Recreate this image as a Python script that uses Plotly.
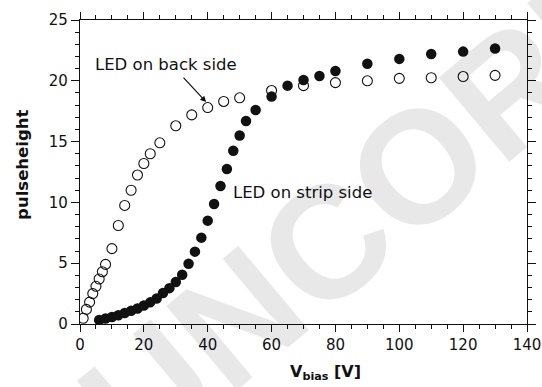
import plotly.graph_objects as go

# LED illuminating the back side (open circles)
back_v = [1, 2, 3, 4, 5, 6, 7, 8, 10, 12, 14, 16, 18, 20, 22, 25, 30, 35, 40, 45, 50,
          60, 70, 80, 90, 100, 110, 120, 130]
back_ph = [0.47, 1.2, 1.8, 2.5, 3.1, 3.7, 4.3, 4.9, 6.2, 8.1, 9.75, 11.0, 12.25, 13.2, 14.0,
           14.9, 16.3, 17.2, 17.8, 18.3, 18.6, 19.2, 19.6, 19.85, 20.0, 20.2, 20.25, 20.35, 20.45]

# LED illuminating the strip side (filled circles)
strip_v = [6, 8, 10, 12, 14, 16, 18, 20, 22, 24, 26, 28, 30, 32, 34, 36, 38, 40, 42, 44,
           46, 48, 50, 52, 55, 60, 65, 70, 75, 80, 90, 100, 110, 120, 130]
strip_ph = [0.33, 0.45, 0.58, 0.72, 0.9, 1.08, 1.28, 1.52, 1.78, 2.1, 2.55, 2.95, 3.45, 4.05,
            4.95, 5.95, 7.1, 8.5, 9.87, 11.35, 12.75, 14.25, 15.5, 16.7, 17.6, 18.7, 19.6,
            20.07, 20.4, 20.8, 21.4, 21.8, 22.2, 22.4, 22.65]

x_range = [0, 140]
y_range = [0, 25]

FONT = "DejaVu Sans"
INK = "#111111"

fig = go.Figure()
fig.add_trace(go.Scatter(
    x=back_v, y=back_ph, mode="markers", name="LED on back side",
    marker=dict(symbol="circle-open", size=10, color=INK, line=dict(width=1.1, color=INK)),
))
fig.add_trace(go.Scatter(
    x=strip_v, y=strip_ph, mode="markers", name="LED on strip side",
    marker=dict(symbol="circle", size=10.5, color=INK, line=dict(width=0)),
))

axis_common = dict(
    showgrid=False, zeroline=False, showline=True, linecolor=INK, linewidth=1.3,
    ticks="outside", tickcolor=INK, tickwidth=1.2, mirror="ticks", automargin=False,
    tickfont=dict(family=FONT, size=15, color=INK),
)

fig.update_layout(
    width=542, height=387,
    margin=dict(l=80, r=15, t=20, b=63, autoexpand=False),
    paper_bgcolor="white", plot_bgcolor="white",
    showlegend=False,
    xaxis=dict(range=x_range, dtick=20, tick0=0, ticklen=7,
               minor=dict(dtick=5, ticklen=4, ticks="outside", tickcolor=INK, tickwidth=1.1),
               **axis_common),
    yaxis=dict(range=y_range, dtick=5, tick0=0, ticklen=8,
               minor=dict(dtick=1, ticklen=4, ticks="outside", tickcolor=INK, tickwidth=1.1),
               **axis_common),
)

annotations = [
    # faint diagonal proof stamp across the figure
    dict(text="<b>UNCORRECTED</b>", xref="paper", yref="paper", x=1.12, y=0.97,
         xanchor="center", yanchor="middle", textangle=-40, showarrow=False,
         font=dict(family="Liberation Sans", size=160, color="rgba(0,0,0,0.09)")),
    dict(text="LED on back side", x=4.1, y=21.3, xref="x", yref="y",
         xanchor="left", yanchor="middle", showarrow=False,
         font=dict(family=FONT, size=16.5, color=INK)),
    dict(text="", x=39.5, y=18.25, xref="x", yref="y", ax=-24, ay=-26,
         showarrow=True, arrowhead=2, arrowsize=1, arrowwidth=1.2, arrowcolor=INK,
         standoff=0),
    dict(text="LED on strip side", x=47.3, y=10.85, xref="x", yref="y",
         xanchor="left", yanchor="middle", showarrow=False,
         font=dict(family=FONT, size=16.5, color=INK)),
    dict(text="<b>pulseheight</b>", xref="paper", yref="paper", x=-0.13, y=0.523,
         xanchor="center", yanchor="middle", textangle=-90, showarrow=False,
         font=dict(family=FONT, size=16.5, color=INK)),
    dict(text="<b>V<sub>bias</sub> [V]</b>", xref="paper", yref="paper", x=0.465, y=-0.118,
         xanchor="left", yanchor="top", showarrow=False,
         font=dict(family=FONT, size=16, color=INK)),
]
fig.update_layout(annotations=annotations)

fig.write_html("out.html")
